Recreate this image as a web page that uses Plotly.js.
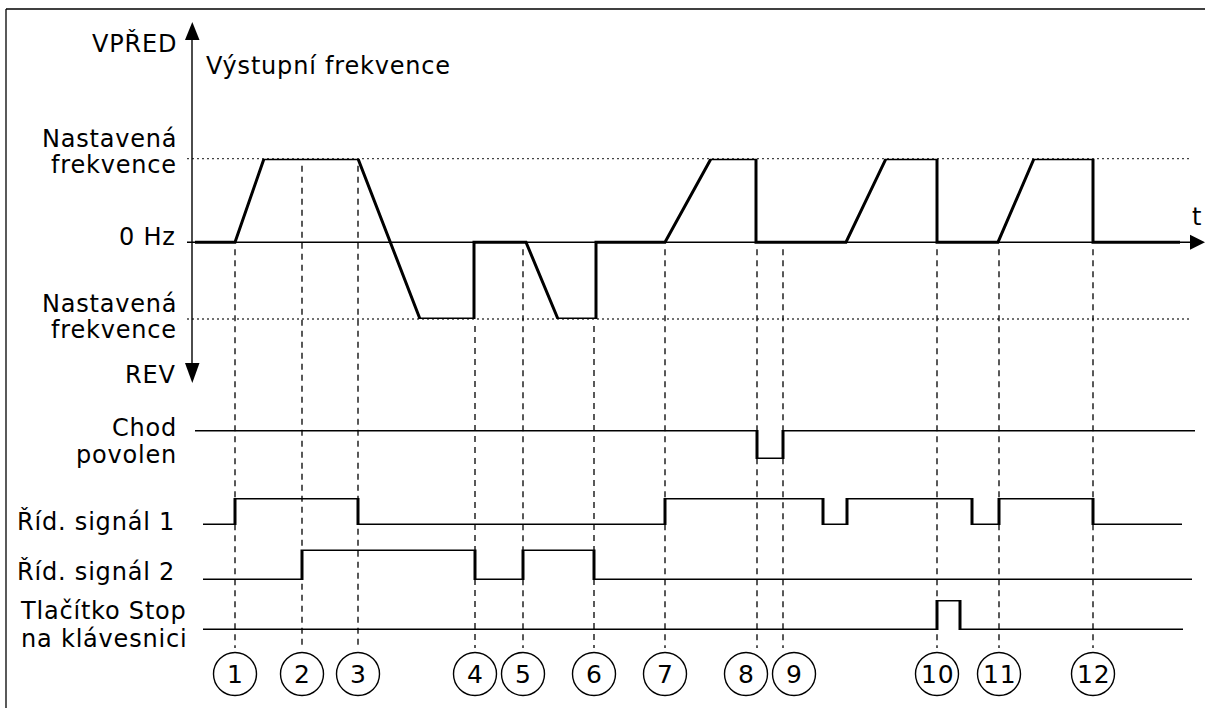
<!DOCTYPE html>
<html><head><meta charset="utf-8">
<script src="https://cdn.plot.ly/plotly-3.0.1.min.js"></script>
<style>
html,body{margin:0;padding:0;background:#fff;}
#chart{width:1205px;height:708px;}
.annotation-text{letter-spacing:0.8px;}
</style>
</head><body><div id="chart"></div>
<script>
// ---------------- data ----------------
const eventLabels = ['1','2','3','4','5','6','7','8','9','10','11','12'];
const eventTimes  = [43,110,166,283,331,402,473,565,591,745,807,901];

// output frequency (1 = set frequency forward, negative = reverse set frequency)
const freqTime  = [3,43,72,166,228,282,282,334,366,404,404,473,519,564,564,654,694,745,745,806,842,901,901,988];
const freqValue = [0,0,1,1,-0.92,-0.92,0,0,-0.92,-0.92,0,0,1,1,0,0,1,1,0,0,1,1,0,0];
const setFreqFwd = 1;
const setFreqRev = -0.92;

// digital signals (step, 1 = high)
const runEnableTime  = [3,565,591,1003];
const runEnableValue = [1,0,1,1];
const ctrl1Time  = [11,43,166,473,631,655,780,807,901,990];
const ctrl1Value = [0,1,0,1,0,1,0,1,0,0];
const ctrl2Time  = [11,110,283,331,402,1000];
const ctrl2Value = [0,1,0,1,0,0];
const stopTime   = [11,745,768,991];
const stopValue  = [0,1,0,0];

const freqAxisLabels = ['VPŘED','Nastavená','frekvence','0 Hz','Nastavená','frekvence','REV'];
const freqTitle = 'Výstupní frekvence';
const rowLabels = ['Chod','povolen','Říd. signál 1','Říd. signál 2','Tlačítko Stop','na klávesnici'];
const timeLabel = 't';

// ---------------- layout geometry (pixels) ----------------
const W = 1205, H = 708;
const T0 = 192;                      // pixel x of time origin (vertical axis)
const px = x => x / W;
const py = y => 1 - y / H;
const tPx = t => t + T0;
const FREQ_TOP = 158.7, FREQ_BOT = 319;
const freqPx = v => FREQ_BOT - (v - setFreqRev) / (setFreqFwd - setFreqRev) * (FREQ_BOT - FREQ_TOP);
const rows = { chod:[459,430], s1:[525,498], s2:[580,549.5], stop:[630,600] };
const dom = r => [py(r[0]), py(r[1])];

const LINE = {color:'#000', width:3};
const traces = [
  {x:freqTime, y:freqValue, xaxis:'x', yaxis:'y', mode:'lines', line:LINE, hoverinfo:'skip'},
  {x:runEnableTime, y:runEnableValue, xaxis:'x', yaxis:'y2', mode:'lines', line:Object.assign({shape:'hv'},LINE), hoverinfo:'skip'},
  {x:ctrl1Time, y:ctrl1Value, xaxis:'x', yaxis:'y3', mode:'lines', line:Object.assign({shape:'hv'},LINE), hoverinfo:'skip'},
  {x:ctrl2Time, y:ctrl2Value, xaxis:'x', yaxis:'y4', mode:'lines', line:Object.assign({shape:'hv'},LINE), hoverinfo:'skip'},
  {x:stopTime, y:stopValue, xaxis:'x', yaxis:'y5', mode:'lines', line:Object.assign({shape:'hv'},LINE), hoverinfo:'skip'}
];

const hidden = {visible:false, fixedrange:true, showgrid:false, zeroline:false};
const shapes = [];
const pathPx = pts => 'M' + pts.map(p => px(p[0]) + ',' + py(p[1])).join('L') + 'Z';

// frame
shapes.push({type:'line', xref:'paper', yref:'paper', x0:px(6), x1:px(6), y0:py(9), y1:py(708), line:{color:'#000', width:1.3}});
shapes.push({type:'line', xref:'paper', yref:'paper', x0:px(6), x1:px(1205), y0:py(9), y1:py(9), line:{color:'#000', width:1.3}});

// dotted set-frequency lines
[setFreqFwd, setFreqRev].forEach(v => shapes.push({type:'line', layer:'below', xref:'paper', yref:'paper',
  x0:px(187), x1:px(1190), y0:py(freqPx(v)), y1:py(freqPx(v)), line:{color:'#444', width:1.3, dash:'2px,3px'}}));

// axes lines + arrows
shapes.push({type:'line', layer:'below', xref:'paper', yref:'paper', x0:px(T0), x1:px(T0), y0:py(30), y1:py(375), line:{color:'#000', width:1.4}});
shapes.push({type:'line', layer:'below', xref:'paper', yref:'paper', x0:px(187), x1:px(1192), y0:py(freqPx(0)), y1:py(freqPx(0)), line:{color:'#000', width:1.4}});
const z = freqPx(0);
shapes.push({type:'path', xref:'paper', yref:'paper', path:pathPx([[185,40],[199.5,40],[T0+0.3,22]]), fillcolor:'#000', line:{width:0}});
shapes.push({type:'path', xref:'paper', yref:'paper', path:pathPx([[185,363],[199.5,363],[T0+0.3,383]]), fillcolor:'#000', line:{width:0}});
shapes.push({type:'path', xref:'paper', yref:'paper', path:pathPx([[1190,z-7.5],[1190,z+7.5],[1205,z]]), fillcolor:'#000', line:{width:0}});

// event dashed lines
function levelAt(t){
  let m = Infinity;
  for (let i=0;i<freqTime.length;i++){ if (Math.abs(freqTime[i]-t)<=2) m = Math.min(m, freqValue[i]); }
  if (m===Infinity){
    for (let i=0;i<freqTime.length-1;i++){
      if (freqTime[i]<=t && t<=freqTime[i+1]){ const a=(t-freqTime[i])/(freqTime[i+1]-freqTime[i]); m = freqValue[i]+a*(freqValue[i+1]-freqValue[i]); break; }
    }
  }
  return m;
}
eventTimes.forEach(t => shapes.push({type:'line', layer:'below', xref:'x', yref:'paper',
  x0:t, x1:t, y0:py(freqPx(levelAt(t))+7), y1:py(648), line:{color:'#000', width:1.3, dash:'6px,5px'}}));

// circled event numbers
const R = 21.5, CY = 674;
const cx = eventTimes.map(tPx);
for (let i=0;i<cx.length-1;i++){
  const d = cx[i+1]-cx[i];
  if (d < 2*R+5){ const s=(2*R+5-d)/2; cx[i]-=s; cx[i+1]+=s; }
}
const annotations = [];
cx.forEach((c,i) => {
  shapes.push({type:'circle', xref:'paper', yref:'paper', x0:px(c-R), x1:px(c+R), y0:py(CY+R), y1:py(CY-R), line:{color:'#000', width:1.4}});
  annotations.push({xref:'paper', yref:'paper', x:px(c), y:py(CY), text:eventLabels[i], showarrow:false,
    xanchor:'center', yanchor:'middle', font:{family:'DejaVu Sans', size:25, color:'#000'}});
});

// text labels
const FS = 24;
const mid = b => py(b - 0.35*FS);
const lab = (text, x, base, anchor) => annotations.push({xref:'paper', yref:'paper', x:px(x), y:mid(base), text, showarrow:false,
  xanchor:anchor, yanchor:'middle', font:{family:'DejaVu Sans', size:FS, color:'#000'}});
const freqLabelPos = [[179,52],[179,147],[179,173],[178,245],[179,312],[179,338],[178,383]];
freqAxisLabels.forEach((t,i) => lab(t, freqLabelPos[i][0], freqLabelPos[i][1], 'right'));
lab(freqTitle, 204, 74, 'left');
const rowLabelPos = [[179,436],[179,463],[177,530],[177,580],[189,619],[189,647]];
rowLabels.forEach((t,i) => lab(t, rowLabelPos[i][0], rowLabelPos[i][1], 'right'));
lab(timeLabel, 1197, 225, 'center');

const layout = {
  width:W, height:H, margin:{l:0,r:0,t:0,b:0,pad:0},
  paper_bgcolor:'#fff', plot_bgcolor:'rgba(0,0,0,0)', showlegend:false,
  xaxis:Object.assign({range:[-T0, W-T0], domain:[0,1]}, hidden),
  yaxis:Object.assign({range:[setFreqRev, setFreqFwd], domain:[py(FREQ_BOT), py(FREQ_TOP)]}, hidden),
  yaxis2:Object.assign({range:[0,1], domain:dom(rows.chod)}, hidden),
  yaxis3:Object.assign({range:[0,1], domain:dom(rows.s1)}, hidden),
  yaxis4:Object.assign({range:[0,1], domain:dom(rows.s2)}, hidden),
  yaxis5:Object.assign({range:[0,1], domain:dom(rows.stop)}, hidden),
  shapes, annotations
};
Plotly.newPlot('chart', traces, layout, {staticPlot:true, displayModeBar:false});
</script>
</body></html>
